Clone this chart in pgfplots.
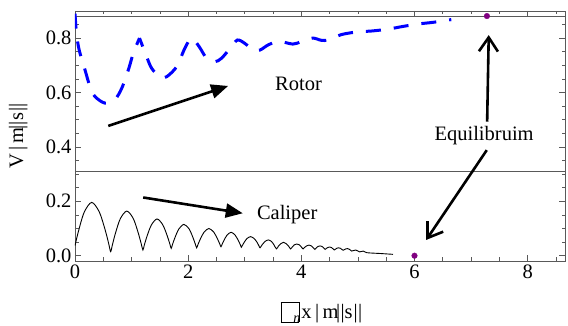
\documentclass[border=0pt]{standalone}
\usepackage{fontspec}
\setmainfont{Liberation Serif}
\usepackage{pgfplots}
\pgfplotsset{compat=1.18}
\usetikzlibrary{arrows.meta}
\definecolor{frm}{gray}{0.35}
\definecolor{eqp}{rgb}{0.5,0,0.5}
\newcommand{\fs}{\fontsize{20.5}{24}\selectfont}
\newcommand{\bx}{{\setlength{\fboxsep}{0pt}\setlength{\fboxrule}{0.9pt}\raisebox{-0.15em}{\fbox{\rule{0pt}{19pt}\hspace{17pt}}}}}
\begin{document}
\begin{tikzpicture}
\useasboundingbox (0,0) rectangle (568pt,326pt);
\begin{axis}[
  at={(75pt,65pt)}, anchor=south west,
  scale only axis, width=490pt, height=250pt,
  xmin=0, xmax=8.66, ymin=-0.0195, ymax=0.8996,
  xtick={0,2,4,6,8}, minor xtick={0.5,1,1.5,2.5,3,3.5,4.5,5,5.5,6.5,7,7.5,8.5},
  ytick={0,0.2,0.4,0.6,0.8}, minor ytick={0.05,0.1,0.15,0.25,0.3,0.35,0.45,0.5,0.55,0.65,0.7,0.75,0.85},
  tick align=inside, major tick length=6pt, minor tick length=3.5pt,
  axis line style={frm, line width=0.8pt},
  every tick/.style={frm, line width=0.7pt},
  /pgf/number format/assume math mode=true,
  ticklabel style={font=\fs},
  yticklabel style={/pgf/number format/fixed, /pgf/number format/fixed zerofill, /pgf/number format/precision=1},
  xlabel={\bx\kern-0.3em\raisebox{-0.45ex}{\textit{\fontsize{14}{15}\selectfont n}}\kern0.05em x\,|\,m\kern-0.12em|\kern0.02em|s\kern0.05em|\kern0.02em|},
  ylabel={V\,|\,m\kern-0.12em|\kern0.02em|s\kern0.05em|\kern0.02em|},
  label style={font=\fs},
  xlabel style={at={(axis description cs:0.503,-0.206)}, anchor=center},
  ylabel style={at={(axis description cs:-0.116,0.50)}, anchor=center},
  clip=true,
]
% reference lines
\addplot[frm, line width=0.8pt] coordinates {(0,0.311) (8.66,0.311)};
\addplot[frm, line width=0.8pt] coordinates {(0,0.881) (8.66,0.881)};
% Rotor
\addplot[blue, line width=3pt, smooth, dash pattern=on 15pt off 13pt] coordinates {
(0,0.89) (0.027,0.817) (0.074,0.756) (0.177,0.683) (0.265,0.621) (0.353,0.585)
(0.53,0.561) (0.707,0.575) (0.825,0.615) (0.943,0.683) (1.03,0.744) (1.14,0.80)};
\addplot[blue, line width=3pt, smooth, dash pattern=on 15pt off 13pt, dash phase=6pt] coordinates {
(1.14,0.80) (1.267,0.731) (1.355,0.689) (1.502,0.656) (1.62,0.658) (1.797,0.695)
(1.94,0.762) (2.06,0.80) (2.196,0.768) (2.325,0.726) (2.473,0.713) (2.59,0.726)
(2.74,0.762) (2.87,0.793) (3.004,0.78) (3.15,0.756) (3.27,0.756) (3.415,0.775)
(3.6,0.788) (3.85,0.778) (4.0,0.787) (4.2,0.80) (4.35,0.792) (4.475,0.793)
(4.71,0.813) (5.0,0.823) (5.24,0.826) (5.535,0.833) (5.8,0.843) (6.07,0.852)
(6.33,0.858) (6.65,0.868)};
% Caliper
\addplot[black, line width=0.9pt, smooth] coordinates {
(0,0.037) (0.06,0.089) (0.161,0.159) (0.295,0.196) (0.429,0.161) (0.53,0.097) (0.597,0.043) (0.63,0.015)
(0.6585,0.038) (0.7155,0.083) (0.801,0.136) (0.915,0.164) (1.029,0.137) (1.1145,0.086) (1.1715,0.043) (1.2,0.021)
(1.225,0.039) (1.275,0.073) (1.35,0.113) (1.45,0.135) (1.55,0.114) (1.625,0.076) (1.675,0.044) (1.7,0.027)
(1.7225,0.041) (1.7675,0.067) (1.835,0.098) (1.925,0.115) (2.015,0.099) (2.0825,0.068) (2.1275,0.042) (2.15,0.029)
(2.1715,0.040) (2.2145,0.061) (2.279,0.086) (2.365,0.10) (2.451,0.087) (2.5155,0.063) (2.5585,0.043) (2.58,0.033)
(2.598,0.041) (2.634,0.057) (2.688,0.076) (2.76,0.086) (2.832,0.075) (2.886,0.056) (2.922,0.040) (2.94,0.031)
(2.9565,0.037) (2.9895,0.049) (3.039,0.063) (3.105,0.07) (3.171,0.062) (3.2205,0.048) (3.2535,0.035) (3.27,0.029)
(3.3135,0.042) (3.357,0.052) (3.415,0.058) (3.473,0.052) (3.5165,0.040) (3.56,0.025)
(3.5975,0.036) (3.635,0.044) (3.685,0.049) (3.735,0.044) (3.7725,0.036) (3.81,0.025)
(3.843,0.033) (3.876,0.040) (3.92,0.043) (3.964,0.040) (3.997,0.033) (4.03,0.025)
(4.0615,0.031) (4.093,0.036) (4.135,0.039) (4.177,0.036) (4.2085,0.030) (4.24,0.023)
(4.267,0.029) (4.294,0.034) (4.33,0.036) (4.366,0.034) (4.393,0.029) (4.42,0.023)
(4.444,0.027) (4.468,0.030) (4.50,0.032) (4.532,0.030) (4.556,0.026) (4.58,0.021)
(4.628,0.0275) (4.66,0.029) (4.692,0.027) (4.74,0.020)
(4.785,0.025) (4.815,0.026) (4.845,0.024) (4.89,0.017)
(4.96,0.021) (5.03,0.014) (5.095,0.017) (5.16,0.011) (5.4,0.008) (5.62,0.005)};
% Equilibrium points
\addplot[only marks, mark=*, mark size=2.8pt, eqp] coordinates {(7.28,0.881) (6.0,0.0)};
% annotations
\draw[black, line width=2.6pt, -{Triangle[length=17pt,width=14pt]}] (axis cs:0.588,0.477) -- (axis cs:2.706,0.624);
\draw[black, line width=2.6pt, -{Triangle[length=17pt,width=14pt]}] (axis cs:1.205,0.214) -- (axis cs:2.965,0.156);
\draw[black, line width=2.6pt, -{Straight Barb[length=14pt,width=19pt]}] (axis cs:7.284,0.4925) -- (axis cs:7.312,0.811);
\draw[black, line width=2.6pt, -{Straight Barb[length=14pt,width=19pt]}] (axis cs:7.277,0.388) -- (axis cs:6.207,0.058);
\node[font=\fs] at (axis cs:3.95,0.631) {Rotor};
\node[font=\fs] at (axis cs:3.75,0.153) {Caliper};
\node[font=\fs] at (axis cs:7.23,0.442) {Equilibruim};
\end{axis}
\end{tikzpicture}
\end{document}
